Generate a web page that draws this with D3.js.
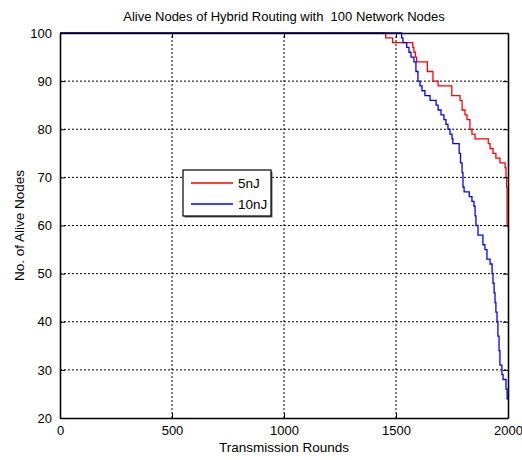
<!DOCTYPE html>
<html>
<head>
<meta charset="utf-8">
<script src="https://cdn.jsdelivr.net/npm/d3@7"></script>
<style>
  body { margin: 0; background: #fff; }
  svg { display: block; font-family: "Liberation Sans", Arial, sans-serif; }
</style>
</head>
<body>
<div id="chart"></div>
<script>
// donnees (rounds, noeuds vivants)
const rounds5nJ = [0, 1454, 1485, 1575, 1580, 1587, 1592, 1640, 1665, 1688, 1749, 1786, 1795, 1808, 1817, 1830, 1839, 1853, 1912, 1920, 1933, 1946, 1964, 1987, 1991, 1994, 1996, 2000];
const nodes5nJ  = [100, 99, 98, 97, 96, 95, 94, 92, 90, 89, 87, 86, 84, 83, 82, 80, 79, 78, 77, 76, 75, 74, 73, 72, 70, 68, 60, 60];

const rounds10nJ = [0, 1525, 1531, 1548, 1558, 1567, 1580, 1589, 1598, 1607, 1616, 1629, 1652, 1679, 1688, 1701, 1714, 1723, 1732, 1741, 1750, 1754, 1782, 1788, 1795, 1799, 1804, 1827, 1839, 1848, 1853, 1857, 1866, 1888, 1897, 1906, 1920, 1929, 1933, 1938, 1942, 1946, 1951, 1955, 1960, 1964, 1973, 1978, 1991, 1996, 2000];
const nodes10nJ  = [100, 99, 98, 97, 96, 95, 94, 92, 90, 89, 88, 87, 86, 85, 84, 83, 82, 81, 80, 79, 78, 77, 75, 73, 71, 68, 67, 66, 65, 64, 62, 60, 58, 56, 55, 53, 52, 50, 48, 46, 44, 42, 40, 37, 34, 31, 29, 28, 26, 24, 24];

const xTicks = [0, 500, 1000, 1500, 2000];
const yTicks = [20, 30, 40, 50, 60, 70, 80, 90, 100];
const seriesNames = ["5nJ", "10nJ"];
const seriesColors = ["#ff0000", "#0000ff"];

const width = 522, height = 460;
const margin = { left: 60, right: 14, top: 33, bottom: 42 };

let svg = d3.select('#chart').append('svg')
    .attr("width", width)
    .attr("height", height)

let x = d3.scaleLinear().domain([0, 2000]).range([margin.left, width - margin.right]);
let y = d3.scaleLinear().domain([20, 100]).range([height - margin.bottom, margin.top]);

// grille pointillee
svg.append('g').selectAll('line')
    .data(xTicks.slice(1, -1))
    .enter().append('line')
    .attr("x1", d => x(d)).attr("x2", d => x(d))
    .attr("y1", y(20)).attr("y2", y(100))
    .attr("stroke", "#000").attr("stroke-width", 1).attr("stroke-dasharray", "2,2")

svg.append('g').selectAll('line')
    .data(yTicks.slice(1, -1))
    .enter().append('line')
    .attr("y1", d => y(d)).attr("y2", d => y(d))
    .attr("x1", x(0)).attr("x2", x(2000))
    .attr("stroke", "#000").attr("stroke-width", 1).attr("stroke-dasharray", "2,2")

// courbes
let series = [
    rounds5nJ.map((r, i) => [r, nodes5nJ[i]]),
    rounds10nJ.map((r, i) => [r, nodes10nJ[i]])
];
let ligne = d3.line()
    .x(d => x(d[0]))
    .y(d => y(d[1]))
    .curve(d3.curveStepAfter)

svg.selectAll('path.serie')
    .data(series)
    .enter().append('path')
    .attr("class", "serie")
    .attr("d", ligne)
    .attr("fill", "none")
    .attr("stroke", (d, i) => seriesColors[i])
    .attr("stroke-width", 1.3)

// axes (ticks vers l'interieur, style matlab)
let fmt = d3.format("d");
let axeBas = svg.append('g')
    .attr("transform", "translate(0," + y(20) + ")")
    .call(d3.axisBottom(x).tickValues(xTicks).tickFormat(fmt).tickSizeInner(-5).tickSizeOuter(0).tickPadding(8))
let axeHaut = svg.append('g')
    .attr("transform", "translate(0," + y(100) + ")")
    .call(d3.axisTop(x).tickValues(xTicks).tickSizeInner(-5).tickSizeOuter(0).tickFormat(""))
let axeGauche = svg.append('g')
    .attr("transform", "translate(" + x(0) + ",0)")
    .call(d3.axisLeft(y).tickValues(yTicks).tickFormat(fmt).tickSizeInner(-5).tickSizeOuter(0).tickPadding(8))
let axeDroit = svg.append('g')
    .attr("transform", "translate(" + x(2000) + ",0)")
    .call(d3.axisRight(y).tickValues(yTicks).tickSizeInner(-5).tickSizeOuter(0).tickFormat(""))

svg.selectAll('.domain').attr("stroke", "#000").attr("stroke-width", 1.6)
svg.selectAll('.tick line').attr("stroke", "#000")
svg.selectAll('.tick text').attr("font-size", "13px").attr("fill", "#000")
    .attr("font-family", "Liberation Sans, Arial, sans-serif")

// titres
svg.append('text')
    .attr("x", (x(0) + x(2000)) / 2).attr("y", 21)
    .attr("text-anchor", "middle").attr("font-size", "13px")
    .text("Alive Nodes of Hybrid Routing with  100 Network Nodes")
    .style("white-space", "pre")

svg.append('text')
    .attr("x", (x(0) + x(2000)) / 2).attr("y", 452)
    .attr("text-anchor", "middle").attr("font-size", "13.5px")
    .text("Transmission Rounds")

svg.append('text')
    .attr("transform", "translate(24," + ((y(20) + y(100)) / 2) + ") rotate(-90)")
    .attr("text-anchor", "middle").attr("font-size", "13.5px")
    .text("No. of Alive Nodes")

// legende
let legende = svg.append('g').attr("transform", "translate(183,170)")
legende.append('rect')
    .attr("x", 1.5).attr("y", 1.5).attr("width", 88).attr("height", 46)
    .attr("fill", "#666")
legende.append('rect')
    .attr("width", 88).attr("height", 46)
    .attr("fill", "#fff").attr("stroke", "#000").attr("stroke-width", 1.2)
legende.selectAll('line')
    .data(seriesNames)
    .enter().append('line')
    .attr("x1", 8).attr("x2", 50)
    .attr("y1", (d, i) => 13 + i * 21).attr("y2", (d, i) => 13 + i * 21)
    .attr("stroke", (d, i) => seriesColors[i]).attr("stroke-width", 1.3)
legende.selectAll('text')
    .data(seriesNames)
    .enter().append('text')
    .attr("x", 55).attr("y", (d, i) => 18 + i * 21)
    .attr("font-size", "13.5px")
    .text(d => d)
</script>
</body>
</html>
